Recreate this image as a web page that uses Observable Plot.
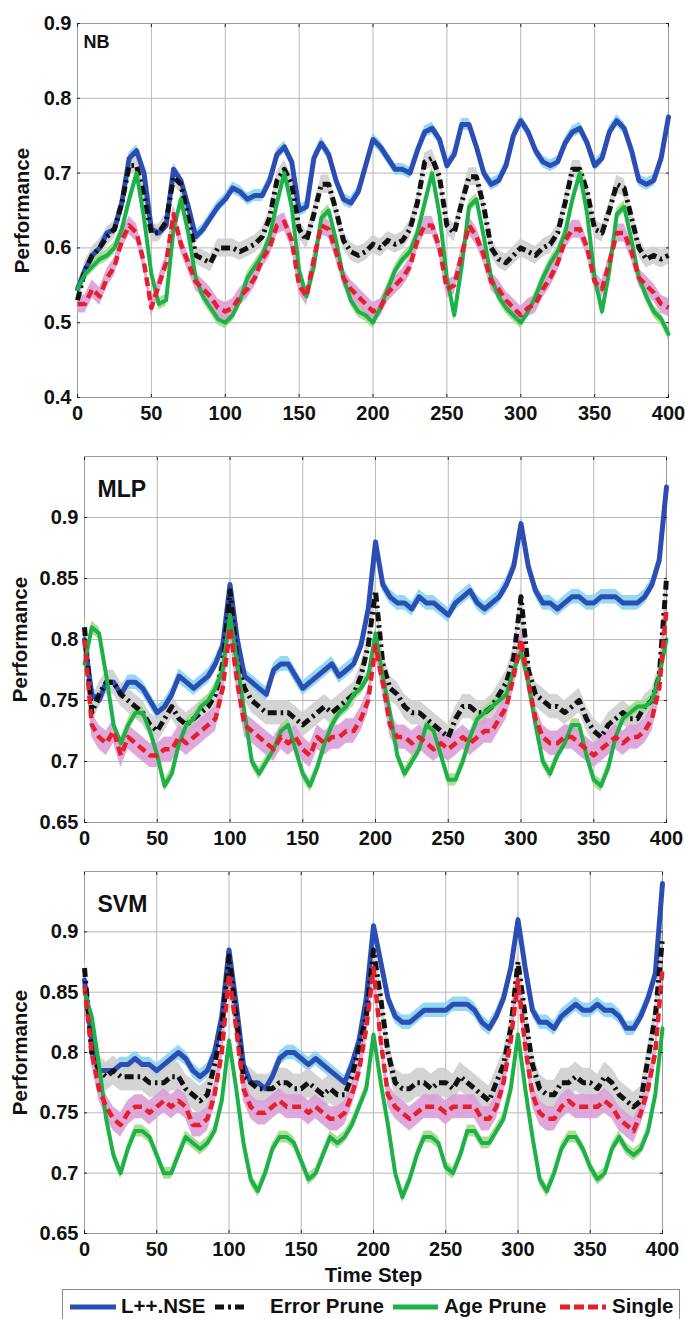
<!DOCTYPE html>
<html><head><meta charset="utf-8">
<script src="https://cdn.jsdelivr.net/npm/d3@7"></script>
<script src="https://cdn.jsdelivr.net/npm/@observablehq/plot@0.6"></script>
<style>
html,body{margin:0;padding:0;background:#fff;width:685px;height:1319px;overflow:hidden;}
#root{position:relative;width:685px;height:1319px;font-family:"Liberation Sans",Arial,sans-serif;font-weight:bold;color:#000;}
.panel{position:absolute;left:0;}
#legend{position:absolute;left:62px;top:1289px;width:616px;height:40px;border:1px solid #8a8a8a;border-bottom:none;background:#fff;}
.lgtext{position:absolute;top:5px;font-size:20.5px;line-height:22px;white-space:nowrap;color:#111;}
.lgline{position:absolute;top:12px;}
</style></head><body><div id="root"></div>
<script>
// ---- data ----
const steps = d3.range(0, 401, 5);          // time steps 0..400
const xTicks = [0, 50, 100, 150, 200, 250, 300, 350, 400];
const yTicksNB = [0.4, 0.5, 0.6, 0.7, 0.8, 0.9];
const yTicksMLP = [0.65, 0.7, 0.75, 0.8, 0.85, 0.9];
const yTicksSVM = [0.65, 0.7, 0.75, 0.8, 0.85, 0.9];
const seriesNames = ["L++.NSE", "Error Prune", "Age Prune", "Single"];
const panelNames = ["NB", "MLP", "SVM"];

const nbBlue = [0.545,0.57,0.59,0.60,0.62,0.625,0.66,0.72,0.73,0.70,
 0.625,0.62,0.63,0.705,0.69,0.655,0.615,0.625,0.64,0.655,
 0.665,0.68,0.675,0.665,0.67,0.67,0.69,0.725,0.735,0.715,
 0.65,0.655,0.72,0.74,0.725,0.69,0.665,0.66,0.675,0.71,
 0.745,0.735,0.72,0.705,0.705,0.70,0.73,0.755,0.76,0.745,
 0.71,0.725,0.765,0.765,0.735,0.70,0.685,0.69,0.71,0.75,
 0.77,0.755,0.73,0.715,0.71,0.715,0.74,0.755,0.76,0.74,
 0.71,0.72,0.755,0.77,0.76,0.73,0.69,0.685,0.69,0.72,
 0.775];
const nbBlack = [0.53,0.57,0.59,0.60,0.615,0.625,0.66,0.71,0.71,0.67,
 0.62,0.62,0.635,0.695,0.685,0.64,0.59,0.585,0.58,0.60,
 0.60,0.60,0.595,0.60,0.605,0.615,0.64,0.69,0.705,0.685,
 0.625,0.61,0.645,0.685,0.685,0.65,0.61,0.595,0.59,0.595,
 0.605,0.60,0.61,0.605,0.61,0.625,0.66,0.715,0.72,0.695,
 0.63,0.62,0.66,0.695,0.695,0.655,0.60,0.585,0.58,0.59,
 0.60,0.595,0.59,0.60,0.605,0.62,0.66,0.705,0.705,0.675,
 0.625,0.62,0.65,0.685,0.68,0.64,0.60,0.585,0.59,0.585,
 0.59];
const nbGreen = [0.545,0.565,0.575,0.585,0.59,0.60,0.625,0.665,0.70,0.64,
 0.565,0.525,0.53,0.625,0.665,0.62,0.56,0.535,0.52,0.505,
 0.50,0.51,0.53,0.56,0.575,0.59,0.615,0.66,0.70,0.655,
 0.57,0.535,0.575,0.64,0.65,0.61,0.56,0.53,0.515,0.51,
 0.50,0.52,0.545,0.57,0.585,0.595,0.62,0.66,0.70,0.645,
 0.56,0.51,0.575,0.655,0.665,0.615,0.56,0.535,0.52,0.51,
 0.50,0.515,0.535,0.56,0.58,0.595,0.62,0.665,0.70,0.645,
 0.56,0.515,0.57,0.645,0.655,0.61,0.56,0.535,0.515,0.505,
 0.485];
const nbRed = [0.525,0.525,0.545,0.535,0.56,0.575,0.61,0.63,0.62,0.58,
 0.52,0.55,0.58,0.645,0.605,0.58,0.555,0.545,0.535,0.52,
 0.515,0.52,0.535,0.545,0.56,0.585,0.60,0.63,0.635,0.61,
 0.55,0.535,0.585,0.63,0.625,0.595,0.56,0.545,0.535,0.525,
 0.515,0.52,0.54,0.55,0.56,0.575,0.61,0.63,0.63,0.60,
 0.545,0.55,0.59,0.63,0.615,0.59,0.555,0.545,0.53,0.52,
 0.51,0.52,0.525,0.545,0.56,0.58,0.61,0.625,0.625,0.60,
 0.555,0.545,0.58,0.62,0.62,0.595,0.56,0.55,0.54,0.525,
 0.52];

const mlpBlue = [0.80,0.755,0.75,0.765,0.765,0.755,0.765,0.765,0.76,0.75,
 0.74,0.745,0.755,0.77,0.765,0.76,0.765,0.77,0.78,0.795,
 0.845,0.80,0.77,0.765,0.76,0.755,0.775,0.78,0.78,0.77,
 0.76,0.765,0.77,0.775,0.78,0.77,0.775,0.78,0.795,0.825,
 0.88,0.845,0.835,0.83,0.83,0.825,0.835,0.83,0.83,0.825,
 0.82,0.83,0.835,0.84,0.83,0.825,0.83,0.835,0.845,0.86,
 0.895,0.86,0.84,0.83,0.83,0.825,0.83,0.835,0.835,0.83,
 0.83,0.835,0.835,0.835,0.83,0.83,0.83,0.835,0.845,0.865,
 0.925];
const mlpBlack = [0.81,0.74,0.755,0.765,0.765,0.755,0.75,0.745,0.74,0.73,
 0.725,0.735,0.745,0.735,0.73,0.735,0.74,0.745,0.755,0.78,
 0.84,0.78,0.76,0.75,0.745,0.74,0.74,0.74,0.74,0.735,
 0.73,0.735,0.74,0.745,0.74,0.745,0.75,0.755,0.77,0.795,
 0.84,0.78,0.76,0.755,0.745,0.74,0.74,0.735,0.73,0.725,
 0.72,0.735,0.745,0.745,0.74,0.74,0.745,0.755,0.765,0.785,
 0.835,0.775,0.755,0.75,0.745,0.745,0.74,0.745,0.75,0.735,
 0.725,0.72,0.73,0.735,0.74,0.735,0.735,0.745,0.75,0.77,
 0.85];
const mlpGreen = [0.78,0.81,0.805,0.77,0.73,0.715,0.73,0.74,0.74,0.725,
 0.705,0.68,0.69,0.715,0.73,0.735,0.745,0.75,0.76,0.775,
 0.82,0.78,0.74,0.70,0.69,0.70,0.71,0.725,0.73,0.71,
 0.69,0.68,0.695,0.715,0.73,0.74,0.745,0.755,0.76,0.77,
 0.805,0.77,0.74,0.705,0.69,0.70,0.71,0.73,0.725,0.705,
 0.685,0.685,0.70,0.72,0.735,0.74,0.745,0.75,0.755,0.775,
 0.79,0.765,0.73,0.70,0.69,0.705,0.715,0.73,0.73,0.705,
 0.685,0.68,0.695,0.72,0.735,0.74,0.745,0.745,0.75,0.77,
 0.80];
const mlpRed = [0.80,0.73,0.72,0.715,0.725,0.705,0.72,0.715,0.71,0.705,
 0.705,0.71,0.71,0.72,0.715,0.72,0.725,0.73,0.735,0.76,
 0.81,0.765,0.73,0.725,0.72,0.715,0.71,0.72,0.715,0.72,
 0.71,0.705,0.72,0.715,0.72,0.72,0.725,0.725,0.735,0.75,
 0.795,0.765,0.73,0.72,0.72,0.715,0.72,0.715,0.71,0.715,
 0.71,0.715,0.72,0.715,0.72,0.725,0.725,0.735,0.745,0.77,
 0.80,0.765,0.735,0.72,0.715,0.715,0.72,0.72,0.715,0.71,
 0.705,0.71,0.715,0.72,0.715,0.72,0.72,0.725,0.735,0.76,
 0.825];

const svmBlue = [0.86,0.81,0.785,0.785,0.785,0.79,0.79,0.795,0.79,0.79,
 0.785,0.79,0.795,0.80,0.795,0.785,0.78,0.785,0.80,0.83,
 0.885,0.84,0.79,0.775,0.775,0.77,0.78,0.795,0.80,0.80,
 0.795,0.79,0.795,0.79,0.785,0.78,0.775,0.79,0.81,0.845,
 0.905,0.875,0.845,0.83,0.825,0.825,0.83,0.835,0.835,0.835,
 0.835,0.84,0.84,0.84,0.835,0.825,0.82,0.83,0.845,0.87,
 0.91,0.87,0.835,0.825,0.825,0.82,0.83,0.835,0.84,0.835,
 0.835,0.84,0.835,0.835,0.83,0.82,0.82,0.83,0.845,0.865,
 0.94];
const svmBlack = [0.87,0.80,0.785,0.78,0.785,0.78,0.78,0.78,0.78,0.775,
 0.775,0.775,0.78,0.78,0.77,0.765,0.76,0.765,0.79,0.82,
 0.88,0.83,0.78,0.775,0.77,0.77,0.77,0.775,0.775,0.77,
 0.77,0.775,0.77,0.765,0.77,0.765,0.765,0.78,0.805,0.83,
 0.885,0.845,0.80,0.775,0.77,0.77,0.775,0.775,0.77,0.775,
 0.775,0.77,0.78,0.775,0.77,0.765,0.76,0.775,0.79,0.82,
 0.875,0.83,0.79,0.77,0.765,0.765,0.775,0.775,0.78,0.775,
 0.775,0.77,0.78,0.775,0.765,0.76,0.755,0.76,0.795,0.83,
 0.895];
const svmGreen = [0.85,0.83,0.79,0.745,0.715,0.70,0.72,0.735,0.735,0.73,
 0.715,0.70,0.70,0.715,0.73,0.725,0.72,0.725,0.735,0.76,
 0.81,0.77,0.725,0.695,0.685,0.70,0.72,0.73,0.73,0.725,
 0.71,0.695,0.70,0.715,0.73,0.725,0.73,0.74,0.755,0.77,
 0.815,0.775,0.74,0.70,0.68,0.695,0.715,0.73,0.73,0.725,
 0.705,0.70,0.715,0.735,0.735,0.725,0.725,0.735,0.745,0.77,
 0.815,0.77,0.73,0.695,0.685,0.70,0.72,0.73,0.73,0.72,
 0.705,0.695,0.70,0.72,0.73,0.72,0.715,0.72,0.735,0.765,
 0.82];
const svmRed = [0.855,0.80,0.77,0.755,0.745,0.74,0.75,0.755,0.755,0.75,
 0.755,0.76,0.755,0.76,0.755,0.74,0.74,0.745,0.765,0.80,
 0.865,0.82,0.77,0.755,0.75,0.75,0.755,0.76,0.755,0.755,
 0.755,0.75,0.755,0.75,0.745,0.745,0.75,0.765,0.785,0.82,
 0.87,0.81,0.765,0.755,0.75,0.745,0.75,0.755,0.755,0.755,
 0.75,0.755,0.755,0.755,0.755,0.745,0.745,0.755,0.775,0.81,
 0.86,0.805,0.765,0.75,0.745,0.745,0.755,0.76,0.755,0.755,
 0.755,0.755,0.76,0.755,0.745,0.74,0.735,0.75,0.77,0.80,
 0.87];

// confidence band half-widths per series (blue, black, green, red)
const bandNB = [0.008, 0.012, 0.008, 0.012];
const bandMLP = [0.006, 0.010, 0.005, 0.010];
const bandSVM = [0.006, 0.012, 0.005, 0.010];

// ---- styles ----
const styles = [
  {stroke: "#2c4db3", band: "#86d5f0", width: 5, dash: null},
  {stroke: "#111111", band: "#cfcfcf", width: 5, dash: "9,4,2.5,4"},
  {stroke: "#1db249", band: "#a3d98a", width: 4, dash: null},
  {stroke: "#e5202b", band: "#dc9fd6", width: 4.5, dash: "9,5"}
];
const FONT = '"Liberation Sans", Arial, sans-serif';
const TICKFONT = 20;
const gridColor = "#b8b8b8";

const panels = [
  {name: panelNames[0], values: [nbBlue, nbBlack, nbGreen, nbRed], band: bandNB, domain: [0.4, 0.9], yTicks: yTicksNB,
   top: 0, height: 430, mt: 23, mb: 33, ml: 77, mr: 17, nameSize: 18, nameDx: 6, nameDy: 12, ylabDx: -55, timeStep: false},
  {name: panelNames[1], values: [mlpBlue, mlpBlack, mlpGreen, mlpRed], band: bandMLP, domain: [0.65, 0.95], yTicks: yTicksMLP,
   top: 430, height: 430, mt: 26, mb: 38, ml: 84, mr: 19, nameSize: 23, nameDx: 13, nameDy: 24, ylabDx: -64, timeStep: false},
  {name: panelNames[2], values: [svmBlue, svmBlack, svmGreen, svmRed], band: bandSVM, domain: [0.65, 0.95], yTicks: yTicksSVM,
   top: 860, height: 430, mt: 11, mb: 57, ml: 84, mr: 23, nameSize: 23, nameDx: 13, nameDy: 24, ylabDx: -64, timeStep: true}
];

const root = document.getElementById("root");

panels.forEach(p => {
  const marks = [
    Plot.ruleX(xTicks, {stroke: gridColor, strokeWidth: 1}),
    Plot.ruleY(p.yTicks, {stroke: gridColor, strokeWidth: 1}),
    Plot.frame({stroke: "#9a9a9a"})
  ];
  p.values.forEach((vals, k) => {
    const hw = p.band[k];
    marks.push(Plot.areaY(steps, {x: d => d, y1: (d, i) => vals[i] - hw, y2: (d, i) => vals[i] + hw,
      fill: styles[k].band, fillOpacity: 0.9}));
  });
  p.values.forEach((vals, k) => {
    const s = styles[k];
    const o = {x: d => d, y: (d, i) => vals[i], stroke: s.stroke, strokeWidth: s.width, strokeLinejoin: "round"};
    if (s.dash) { o.strokeDasharray = s.dash; o.strokeLinecap = "butt"; }
    marks.push(Plot.line(steps, o));
  });
  // labelled axes
  marks.push(Plot.axisX({ticks: xTicks, tickSize: 0, tickPadding: 8, tickFormat: d => String(d), label: null, fontSize: TICKFONT}));
  marks.push(Plot.axisY({ticks: p.yTicks, tickSize: 0, tickPadding: 6, tickFormat: d => String(d), label: null, fontSize: TICKFONT}));
  // small inward tick marks
  marks.push(Plot.axisX({ticks: xTicks, anchor: "top", tickSize: -3, tickFormat: () => "", label: null, stroke: "#222"}));
  marks.push(Plot.axisX({ticks: xTicks, anchor: "bottom", tickSize: -3, tickFormat: () => "", label: null, stroke: "#222"}));
  marks.push(Plot.axisY({ticks: p.yTicks, anchor: "left", tickSize: -3, tickFormat: () => "", label: null, stroke: "#222"}));
  marks.push(Plot.axisY({ticks: p.yTicks, anchor: "right", tickSize: -3, tickFormat: () => "", label: null, stroke: "#222"}));
  // panel name
  marks.push(Plot.text([p.name], {text: d => d, frameAnchor: "top-left", dx: p.nameDx, dy: p.nameDy,
    lineAnchor: "top", textAnchor: "start", fontSize: p.nameSize, fontWeight: "bold", fill: "#111"}));
  // y label
  marks.push(Plot.text(["Performance"], {text: d => d, frameAnchor: "left", dx: p.ylabDx, rotate: -90,
    textAnchor: "middle", lineAnchor: "middle", fontSize: 20.5, fontWeight: "bold", fill: "#111"}));
  if (p.timeStep) {
    marks.push(Plot.text(["Time Step"], {text: d => d, frameAnchor: "bottom", dy: 42,
      textAnchor: "middle", lineAnchor: "middle", fontSize: 20.5, fontWeight: "bold", fill: "#111"}));
  }
  const chart = Plot.plot({
    width: 685, height: p.height,
    marginTop: p.mt, marginBottom: p.mb, marginLeft: p.ml, marginRight: p.mr,
    x: {domain: [0, 400]},
    y: {domain: p.domain},
    style: {fontFamily: FONT, fontSize: TICKFONT + "px", fontWeight: "bold", color: "#111", background: "transparent", overflow: "visible"},
    marks
  });
  const div = document.createElement("div");
  div.className = "panel";
  div.style.top = p.top + "px";
  div.appendChild(chart);
  root.appendChild(div);
});

// ---- legend ----
const legend = document.createElement("div");
legend.id = "legend";
const lgItems = [
  {line: [7, 53], text: 58},
  {line: [152, 183], text: 207},
  {line: [330, 375], text: 381},
  {line: [497, 543], text: 549}
];
seriesNames.forEach((name, k) => {
  const s = styles[k], it = lgItems[k];
  const w = it.line[1] - it.line[0];
  const svg = d3.create("svg").attr("class", "lgline").attr("width", w).attr("height", 10)
    .style("left", it.line[0] + "px");
  svg.append("line").attr("x1", 0).attr("x2", w).attr("y1", 5).attr("y2", 5)
    .attr("stroke", s.stroke).attr("stroke-width", 5)
    .attr("stroke-dasharray", s.dash ? (k === 1 ? "9,4,3,4" : "10,4") : null);
  legend.appendChild(svg.node());
  const t = document.createElement("div");
  t.className = "lgtext";
  t.style.left = it.text + "px";
  t.textContent = name;
  legend.appendChild(t);
});
root.appendChild(legend);
</script>
</body></html>
